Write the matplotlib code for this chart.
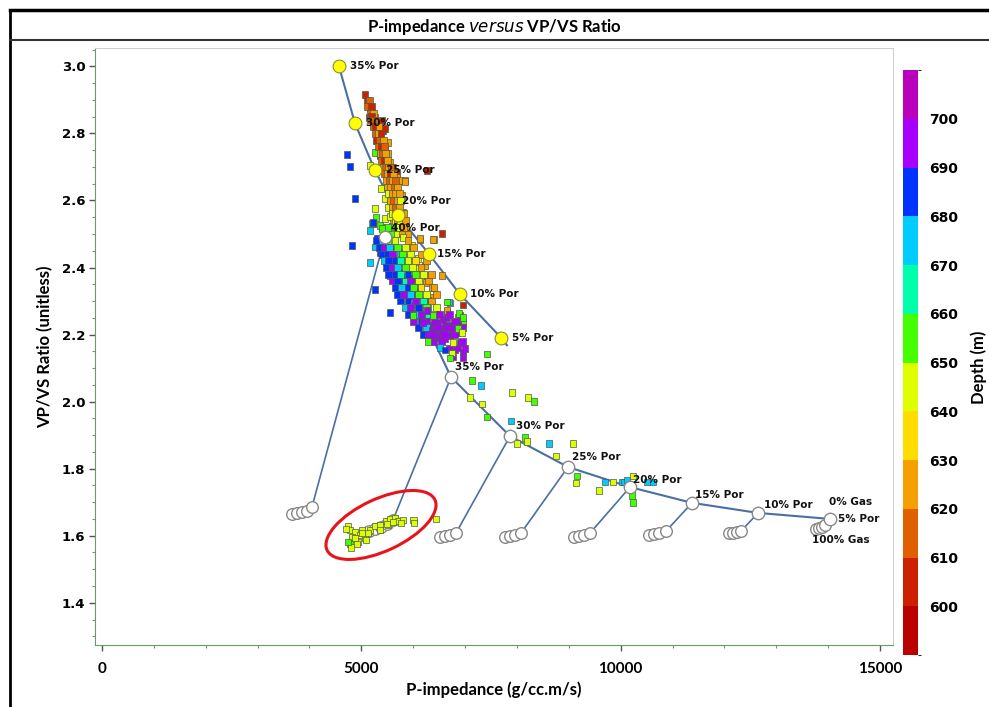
import numpy as np
import matplotlib.pyplot as plt
from matplotlib.colors import ListedColormap, BoundaryNorm
from matplotlib.patches import Ellipse
from matplotlib.transforms import ScaledTranslation
from matplotlib.lines import Line2D
from matplotlib.ticker import MultipleLocator

# --- well log samples: P-impedance, Vp/Vs and depth (m) ---
imp = [
    5071, 5128, 5167, 5206, 5148, 5263, 5225, 5398, 5302, 5321, 5360, 5418, 5456, 5398, 5456,
    5514, 5263, 5360, 5418, 5418, 5514, 5553, 5495, 5553, 5610, 5688, 5591, 5688, 5533, 5745,
    5842, 5379, 5610, 5688, 5649, 5784, 5456, 5553, 5649, 5688, 5263, 5591, 5784, 5803, 5283,
    5456, 5398, 5225, 5610, 5784, 5591, 6266, 5167, 5842, 5553, 5707, 5784, 5553, 5206, 5360,
    5861, 5765, 6131, 6555, 6401,
    5110, 5150, 5120, 5190, 5170, 5230, 5190, 5250, 5180, 5230, 5280, 5340, 5270, 5330, 5380,
    5300, 5350, 5420, 5330, 5380, 5440, 5360, 5400, 5470, 5380, 5450, 5500, 5420, 5470, 5530,
    5580, 5440, 5510, 5560, 5620, 5480, 5540, 5600, 5660, 5500, 5570, 5640, 5700, 5530, 5600,
    5660, 5730, 5570, 5620, 5700, 5760, 5520, 5600, 5660, 5740, 5600, 5650, 5720, 5820, 5650,
    5700, 5760, 5850, 5500, 5690, 5740, 5820, 5600, 5700, 5800, 5900,
    4724, 4781, 4878, 4820, 5263, 5553,
    5225, 5167, 5398, 5302, 5418, 5263, 5360, 5456, 5553, 5745, 5803, 5977, 6131, 6382, 5610,
    5553, 5688, 5803, 5938, 5996, 6092, 6227, 6073, 5745, 5610, 5553, 5880, 5803, 5996, 6073,
    6266, 6362, 6324, 6247, 6555, 5880, 5977, 6073, 6170, 6035, 5996, 6131, 6285, 6227, 5167,
    6652, 6960, 6709, 6690, 6652, 6864, 6960, 6285, 6652,
    5300, 5400, 5500, 5650, 5900, 5350, 5450, 5550, 5700, 5850, 6000, 5400, 5500, 5600, 5800,
    5950, 6150, 5450, 5520, 5650, 5750, 5900, 6050, 6250, 5480, 5600, 5700, 5850, 5980, 6150,
    5520, 5650, 5750, 5900, 6050, 6200, 6350, 5600, 5700, 5850, 5950, 6100, 6300, 5650, 5780,
    5900, 6000, 6150, 6400, 5700, 5820, 5950, 6100, 6250, 6450, 5750, 5900, 6050, 6200, 6350,
    5850, 5950, 6100, 6250, 6450, 5900, 6050, 6150, 6300, 6000, 6150, 6250, 6100, 6250, 6200,
    6300, 6300, 6400,
    6189, 6362, 6459, 6517, 6709, 6902, 6844, 6709, 6902, 6960, 6806, 6382, 6420, 6555, 6613,
    6748, 6574, 6440, 6999, 6960, 6767, 6613, 6517, 6652, 6864, 6478,
    6500, 6700, 6400, 6800, 6650, 6950, 6350, 6600, 6800, 6550, 6950, 6700, 6850,
    6517, 6613, 6767, 6748, 6709, 6864, 6941, 6382, 5996, 6266, 6883, 6960,
    7423, 7134, 7307, 7095, 7326, 7423, 7905, 8213, 8329, 7885, 8155, 8194, 8001, 8618, 9081,
    8753, 9158, 9139, 9582, 9698, 9852, 10026, 10064, 10122, 10238, 10238, 10218, 10507, 10623,
    4743, 4781, 4878, 4820, 4974, 5071, 4935, 4781, 5013, 5167, 5263, 5360, 5475, 5553, 5649,
    5707, 5803, 5514, 6000, 6440, 5360, 4878, 5128, 5610, 4704, 4801, 4916, 5090, 5013, 5495,
    5765, 6015, 4743,
]
vpvs = [
    2.917, 2.893, 2.878, 2.863, 2.848, 2.848, 2.833, 2.839, 2.818, 2.803, 2.794, 2.809, 2.815, 2.765, 2.756,
    2.773, 2.744, 2.735, 2.726, 2.714, 2.741, 2.714, 2.705, 2.696, 2.699, 2.684, 2.675, 2.669, 2.660, 2.660,
    2.660, 2.636, 2.645, 2.630, 2.621, 2.615, 2.607, 2.601, 2.592, 2.580, 2.577, 2.571, 2.550, 2.565, 2.550,
    2.547, 2.520, 2.532, 2.541, 2.535, 2.523, 2.690, 2.705, 2.657, 2.586, 2.580, 2.562, 2.553, 2.532, 2.526,
    2.517, 2.502, 2.484, 2.502, 2.484,
    2.90, 2.90, 2.88, 2.88, 2.86, 2.86, 2.85, 2.84, 2.84, 2.82, 2.82, 2.82, 2.80, 2.80, 2.80,
    2.78, 2.78, 2.78, 2.76, 2.76, 2.76, 2.74, 2.74, 2.74, 2.72, 2.72, 2.72, 2.70, 2.70, 2.70,
    2.70, 2.68, 2.68, 2.68, 2.68, 2.66, 2.66, 2.66, 2.66, 2.64, 2.64, 2.64, 2.64, 2.62, 2.62,
    2.62, 2.62, 2.60, 2.60, 2.60, 2.60, 2.58, 2.58, 2.58, 2.58, 2.56, 2.56, 2.56, 2.56, 2.54,
    2.54, 2.54, 2.54, 2.52, 2.52, 2.52, 2.52, 2.50, 2.50, 2.50, 2.50,
    2.738, 2.702, 2.607, 2.466, 2.335, 2.267,
    2.535, 2.511, 2.517, 2.487, 2.475, 2.461, 2.446, 2.446, 2.458, 2.446, 2.490, 2.466, 2.487, 2.484, 2.428,
    2.407, 2.398, 2.416, 2.431, 2.416, 2.428, 2.407, 2.398, 2.386, 2.383, 2.377, 2.371, 2.356, 2.368, 2.347,
    2.377, 2.341, 2.311, 2.356, 2.377, 2.326, 2.317, 2.326, 2.303, 2.288, 2.264, 2.273, 2.279, 2.258, 2.416,
    2.267, 2.288, 2.294, 2.297, 2.297, 2.252, 2.237, 2.303, 2.273,
    2.48, 2.48, 2.48, 2.48, 2.48, 2.46, 2.46, 2.46, 2.46, 2.46, 2.46, 2.44, 2.44, 2.44, 2.44,
    2.44, 2.44, 2.42, 2.42, 2.42, 2.42, 2.42, 2.42, 2.42, 2.40, 2.40, 2.40, 2.40, 2.40, 2.40,
    2.38, 2.38, 2.38, 2.38, 2.38, 2.38, 2.38, 2.36, 2.36, 2.36, 2.36, 2.36, 2.36, 2.34, 2.34,
    2.34, 2.34, 2.34, 2.34, 2.32, 2.32, 2.32, 2.32, 2.32, 2.32, 2.30, 2.30, 2.30, 2.30, 2.30,
    2.28, 2.28, 2.28, 2.28, 2.28, 2.26, 2.26, 2.26, 2.26, 2.24, 2.24, 2.24, 2.22, 2.22, 2.20,
    2.20, 2.18, 2.18,
    2.237, 2.213, 2.237, 2.219, 2.228, 2.258, 2.207, 2.198, 2.177, 2.148, 2.154, 2.228, 2.213, 2.207, 2.228,
    2.219, 2.244, 2.198, 2.159, 2.130, 2.133, 2.189, 2.192, 2.252, 2.240, 2.225,
    2.26, 2.26, 2.24, 2.24, 2.22, 2.22, 2.20, 2.20, 2.20, 2.18, 2.18, 2.16, 2.16,
    2.162, 2.154, 2.177, 2.145, 2.130, 2.219, 2.207, 2.258, 2.258, 2.273, 2.264, 2.252,
    2.142, 2.064, 2.049, 2.013, 1.993, 1.954, 2.028, 2.013, 2.001, 1.942, 1.894, 1.882, 1.876, 1.876, 1.876,
    1.838, 1.778, 1.757, 1.736, 1.760, 1.760, 1.760, 1.760, 1.766, 1.778, 1.700, 1.721, 1.760, 1.760,
    1.629, 1.617, 1.611, 1.596, 1.602, 1.593, 1.581, 1.575, 1.617, 1.617, 1.629, 1.632, 1.644, 1.650, 1.653,
    1.644, 1.647, 1.632, 1.647, 1.650, 1.617, 1.593, 1.608, 1.641, 1.620, 1.566, 1.575, 1.587, 1.608, 1.635,
    1.638, 1.638, 1.581,
]
depth = [
    605, 605, 605, 625, 605, 625, 605, 605, 625, 605, 625, 605, 605, 645, 625,
    625, 655, 605, 625, 605, 625, 625, 605, 605, 625, 605, 625, 625, 685, 625,
    625, 645, 625, 625, 605, 625, 645, 625, 625, 685, 645, 625, 645, 625, 655,
    645, 655, 685, 625, 625, 655, 605, 645, 625, 645, 625, 625, 645, 655, 655,
    625, 645, 625, 605, 625,
    605, 615, 615, 605, 615, 625, 605, 615, 615, 615, 605, 625, 615, 625, 605,
    605, 615, 625, 615, 605, 615, 625, 615, 625, 615, 605, 625, 625, 615, 625,
    615, 615, 625, 605, 625, 625, 615, 625, 615, 625, 625, 615, 625, 645, 625,
    625, 625, 625, 615, 625, 645, 645, 625, 615, 625, 645, 625, 625, 625, 645,
    625, 645, 625, 655, 625, 645, 625, 655, 645, 625, 625,
    685, 685, 685, 685, 685, 685,
    685, 675, 655, 685, 685, 675, 685, 695, 685, 675, 645, 645, 625, 625, 655,
    685, 695, 655, 645, 625, 645, 625, 645, 685, 675, 695, 655, 685, 695, 655,
    625, 625, 625, 625, 625, 675, 685, 695, 655, 675, 685, 675, 655, 695, 675,
    625, 605, 655, 675, 655, 655, 655, 695, 625,
    685, 675, 655, 645, 625, 685, 695, 675, 655, 645, 625, 685, 685, 695, 655,
    645, 625, 675, 685, 685, 665, 645, 635, 625, 685, 695, 675, 655, 645, 625,
    685, 685, 665, 685, 655, 645, 625, 695, 685, 665, 695, 645, 625, 685, 675,
    685, 655, 635, 625, 685, 695, 675, 655, 645, 625, 685, 685, 695, 665, 625,
    675, 695, 685, 655, 645, 685, 675, 695, 665, 695, 685, 695, 685, 675, 685,
    695, 655, 695,
    695, 695, 695, 695, 695, 695, 695, 695, 695, 695, 695, 695, 695, 695, 695,
    695, 695, 695, 695, 695, 695, 695, 695, 695, 695, 695,
    695, 695, 695, 695, 695, 695, 695, 695, 695, 695, 695, 695, 695,
    675, 685, 645, 645, 655, 655, 645, 655, 655, 695, 655, 655,
    655, 655, 675, 645, 645, 655, 645, 645, 655, 675, 655, 645, 645, 675, 645,
    645, 655, 645, 645, 675, 645, 675, 675, 675, 645, 655, 655, 675, 675,
    645, 645, 645, 645, 645, 645, 645, 655, 645, 645, 645, 645, 645, 645, 645,
    645, 645, 645, 645, 645, 645, 645, 645, 645, 645, 645, 645, 645, 645, 645,
    645, 645, 655,
]

# --- rock physics model: wet (brine) trend and sand trend ---
upper_por = [35, 30, 25, 20, 15, 10, 5, 0]
upper_imp = [4569, 4878, 5263, 5707, 6305, 6902, 7692, 7808]
upper_vpvs = [3.000, 2.830, 2.690, 2.556, 2.440, 2.320, 2.191, 2.168]

lower_por = [40, 35, 30, 25, 20, 15, 10, 5]
lower_imp = [5456, 6729, 7866, 8984, 10180, 11375, 12648, 14036]
lower_vpvs = [2.490, 2.073, 1.897, 1.805, 1.745, 1.698, 1.668, 1.650]

# gas substitution points for each porosity on the sand trend (100% -> low gas)
gas_imp = [
    [3663, 3759, 3856, 3952, 4049],
    [5148, 5263, 5379, 5495, 5610],
    [6517, 6613, 6709, 6825],
    [7770, 7866, 7962, 8078],
    [9100, 9197, 9293, 9409],
    [10546, 10642, 10739, 10874],
    [12089, 12166, 12243, 12320],
    [13766, 13824, 13882, 13939],
]
gas_vpvs = [
    [1.665, 1.668, 1.671, 1.674, 1.686],
    [1.614, 1.620, 1.626, 1.635, 1.647],
    [1.596, 1.599, 1.602, 1.608],
    [1.596, 1.599, 1.602, 1.608],
    [1.596, 1.599, 1.602, 1.608],
    [1.602, 1.605, 1.608, 1.614],
    [1.608, 1.608, 1.611, 1.614],
    [1.620, 1.623, 1.626, 1.632],
]

depth_bounds = list(range(590, 711, 10))
depth_colors = ['#bb0000', '#cc2000', '#e06000', '#f5a000', '#ffdd00', '#ddff00',
                '#44ff00', '#00ffaa', '#00ccff', '#0033ff', '#a800ff', '#bb00bb']

cmap = ListedColormap(depth_colors)
norm = BoundaryNorm(depth_bounds, cmap.N)

fig = plt.figure(figsize=(9.89, 7.07), dpi=100)
fig.patch.set_facecolor('white')
ax = fig.add_axes([0.096, 0.0877, 0.807, 0.844])

line_c = '#4a6fa5'
lbl_font = dict(fontsize=7.5, fontweight='bold', color='#111111',
                family=['Liberation Sans Narrow', 'DejaVu Sans'])

# gas legs from each sand node down to its gas points
for i in range(len(lower_imp)):
    ax.plot([lower_imp[i], gas_imp[i][-1]], [lower_vpvs[i], gas_vpvs[i][-1]],
            color=line_c, lw=1.2, zorder=2)
    ax.scatter(gas_imp[i], gas_vpvs[i], s=70, facecolor='white', edgecolor='#888888',
               linewidths=1.0, zorder=3)

# trends
ax.plot(upper_imp, upper_vpvs, color=line_c, lw=1.5, zorder=2)
ax.plot(lower_imp, lower_vpvs, color=line_c, lw=1.5, zorder=2)

# log samples coloured by depth
sc = ax.scatter(imp, vpvs, c=depth, cmap=cmap, norm=norm, marker='s', s=24,
                edgecolor='#4d5a4d', linewidths=0.5, zorder=4)

ax.scatter(upper_imp[:-1], upper_vpvs[:-1], s=85, facecolor='#ffff00', edgecolor='#8a8a40',
           linewidths=0.8, zorder=5)
ax.scatter(lower_imp, lower_vpvs, s=80, facecolor='white', edgecolor='#888888',
           linewidths=1.0, zorder=5)

upper_off = [(8, 0), (8, 0), (8, 0), (3, 10), (6, 0), (7, 0), (8, 0)]
for p, x, y, off in zip(upper_por, upper_imp, upper_vpvs, upper_off):
    ax.annotate(f'{p}% Por', (x, y), xytext=off, textcoords='offset points',
                ha='left', va='center', zorder=6, **lbl_font)

lower_off = [(4, 7), (3, 7), (4, 7), (3, 7), (2, 5), (2, 6), (4, 6), (6, 0)]
for p, x, y, off in zip(lower_por, lower_imp, lower_vpvs, lower_off):
    ax.annotate(f'{p}% Por', (x, y), xytext=off, textcoords='offset points',
                ha='left', va='center', zorder=6, **lbl_font)

ax.annotate('0% Gas', (lower_imp[-1], lower_vpvs[-1]), xytext=(-1, 12),
            textcoords='offset points', ha='left', va='center', zorder=6, **lbl_font)
ax.annotate('100% Gas', (lower_imp[-1], lower_vpvs[-1]), xytext=(-13, -15),
            textcoords='offset points', ha='left', va='center', zorder=6, **lbl_font)

# highlight the gas sand samples
ring = Ellipse((0, 0), 1.19, 0.52, angle=25, fill=False, edgecolor='#e8141c', lw=2.2,
               transform=fig.dpi_scale_trans + ScaledTranslation(5379, 1.632, ax.transData),
               zorder=7)
ax.add_patch(ring)

ax.set_xlim(-135, 15250)
ax.set_ylim(1.274, 3.054)
ax.xaxis.set_major_locator(MultipleLocator(5000))
ax.xaxis.set_minor_locator(MultipleLocator(1000))
ax.yaxis.set_major_locator(MultipleLocator(0.2))
ax.yaxis.set_minor_locator(MultipleLocator(0.05))
ax.tick_params(axis='both', which='major', length=4, width=1, color='#555555')
ax.tick_params(axis='both', which='minor', length=2, width=0.8, color='#888888')
ax.tick_params(axis='y', labelsize=9.5, pad=3)
ax.tick_params(axis='x', labelsize=11, pad=8)
for t in ax.get_yticklabels():
    t.set_fontweight('bold')
for t in ax.get_xticklabels():
    t.set_fontweight('bold')
    t.set_family('Lato')
for s in ['top', 'right']:
    ax.spines[s].set_color('#d0d0d0')
ax.spines['left'].set_color('#6a9a6a')
ax.spines['bottom'].set_color('#6a9a6a')

ax.set_xlabel('P-impedance (g/cc.m/s)', fontsize=12, fontweight='bold', family='Lato', labelpad=4)
ax.set_ylabel('VP/VS Ratio (unitless)', fontsize=12, fontweight='bold', family='Lato', labelpad=6)

# depth colour bar
cax = fig.add_axes([0.913, 0.0735, 0.0152, 0.8274])
cb = fig.colorbar(sc, cax=cax, ticks=range(600, 701, 10))
cb.outline.set_visible(False)
cax.tick_params(length=0, labelsize=10, pad=8)
for t in cax.get_yticklabels():
    t.set_fontweight('bold')
fig.text(0.998, 0.48, 'Depth (m)', rotation=90, ha='right', va='center',
         fontsize=12, fontweight='bold', family='Lato')

# framed title bar
fig.add_artist(Line2D([0.0101, 0.0101], [0, 0.986], color='black', lw=2, transform=fig.transFigure))
fig.add_artist(Line2D([0.0101, 1.0], [0.986, 0.986], color='black', lw=2.5, transform=fig.transFigure))
fig.add_artist(Line2D([0.0101, 1.0], [0.943, 0.943], color='#333333', lw=1.5, transform=fig.transFigure))
fig.text(0.5, 0.962, 'P-impedance $\\mathbf{\\it{versus}}$ VP/VS Ratio', ha='center', va='center',
         fontsize=12, fontweight='bold', family='Lato')

fig.savefig('out.png', dpi=100)
